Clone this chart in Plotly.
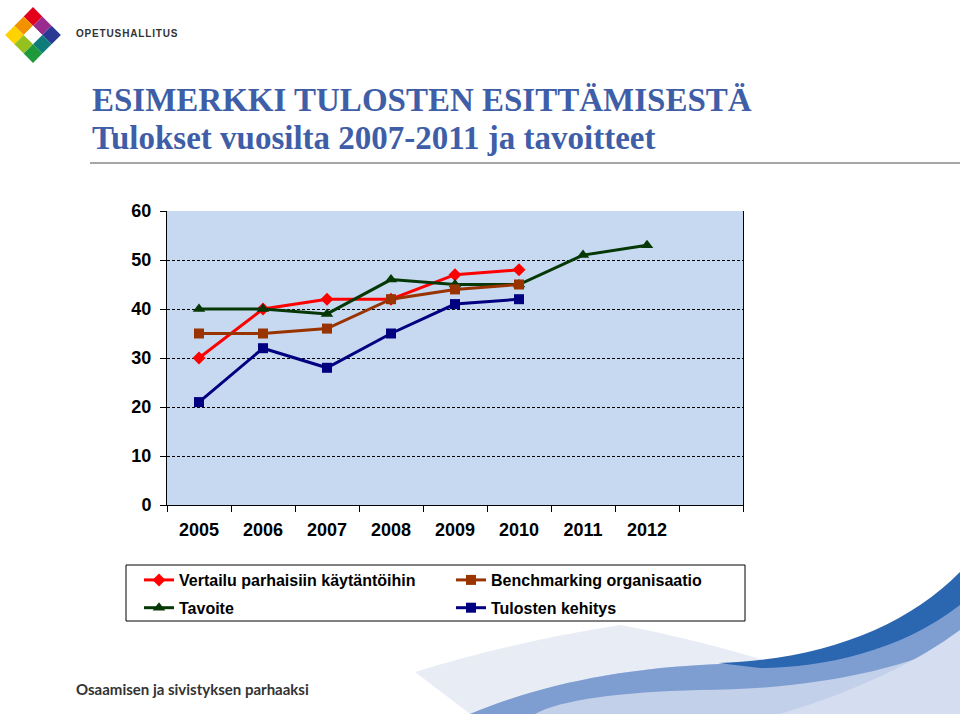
import plotly.graph_objects as go

W, H = 960, 714

years = ["2005", "2006", "2007", "2008", "2009", "2010", "2011", "2012"]
categories = years + [" "]

vertailu_years = ["2005", "2006", "2007", "2008", "2009", "2010"]
vertailu = [30, 40, 42, 42, 47, 48]

benchmark_years = ["2005", "2006", "2007", "2008", "2009", "2010"]
benchmark = [35, 35, 36, 42, 44, 45]

tavoite_years = ["2005", "2006", "2007", "2008", "2009", "2010", "2011", "2012"]
tavoite = [40, 40, 39, 46, 45, 45, 51, 53]

tulos_years = ["2005", "2006", "2007", "2008", "2009", "2010"]
tulos = [21, 32, 28, 35, 41, 42]

y_ticks = [0, 10, 20, 30, 40, 50, 60]

title1 = "ESIMERKKI TULOSTEN ESITTÄMISESTÄ"
title2 = "Tulokset vuosilta 2007-2011 ja tavoitteet"


def px(x, y):
    return x / W, 1 - y / H


def path(points_cmds):
    out = []
    for cmd in points_cmds:
        if isinstance(cmd, str):
            out.append(cmd)
        else:
            x, y = px(*cmd)
            out.append(f"{x:.5f},{y:.5f}")
    return " ".join(out)


LFONT = "Liberation Sans"

fig = go.Figure()

fig.add_trace(go.Scatter(
    x=vertailu_years, y=vertailu, name="Vertailu parhaisiin käytäntöihin",
    mode="lines+markers", line=dict(color="#FF0000", width=3),
    marker=dict(symbol="diamond", size=10, color="#FF0000"),
    legend="legend", legendgroup="a"))
fig.add_trace(go.Scatter(
    x=tavoite_years, y=tavoite, name="Tavoite",
    mode="lines+markers", line=dict(color="#063806", width=3),
    marker=dict(symbol="triangle-up", size=11, color="#063806"),
    legend="legend", legendgroup="b"))
fig.add_trace(go.Scatter(
    x=benchmark_years, y=benchmark, name="Benchmarking organisaatio",
    mode="lines+markers", line=dict(color="#993300", width=3),
    marker=dict(symbol="square", size=10, color="#993300"),
    legend="legend2", legendgroup="c"))
fig.add_trace(go.Scatter(
    x=tulos_years, y=tulos, name="Tulosten kehitys",
    mode="lines+markers", line=dict(color="#000080", width=3),
    marker=dict(symbol="square", size=10, color="#000080"),
    legend="legend2", legendgroup="d"))

shapes = []

# bottom-right decorative waves
shapes.append(dict(type="path", xref="paper", yref="paper", layer="below",
    path=path(["M", (415, 672), "Q", (520, 640), (621, 625), "Q", (700, 640), (780, 665),
               "L", (700, 714), "L", (470, 714), "Z"]),
    fillcolor="#E8ECF5", line=dict(width=0)))
shapes.append(dict(type="path", xref="paper", yref="paper", layer="below",
    path=path(["M", (470, 714), "C", (540, 685), (620, 668), (720, 664),
               "C", (820, 660), (900, 640), (960, 592), "L", (960, 714), "Z"]),
    fillcolor="#C3D0EA", line=dict(width=0)))
shapes.append(dict(type="path", xref="paper", yref="paper", layer="below",
    path=path(["M", (470, 714), "C", (540, 685), (620, 668), (720, 664),
               "C", (820, 660), (900, 640), (960, 592), "L", (960, 640),
               "C", (900, 672), (800, 690), (700, 690),
               "C", (620, 692), (560, 700), (535, 714), "Z"]),
    fillcolor="#7E9ED2", line=dict(width=0)))
shapes.append(dict(type="path", xref="paper", yref="paper", layer="below",
    path=path(["M", (718, 663), "C", (820, 660), (905, 628), (960, 572),
               "L", (960, 605), "C", (900, 652), (820, 668), (760, 668), "Z"]),
    fillcolor="#2B66B0", line=dict(width=0)))
shapes.append(dict(type="path", xref="paper", yref="paper", layer="below",
    path=path(["M", (780, 714), "C", (860, 690), (920, 660), (960, 630),
               "L", (960, 714), "Z"]),
    fillcolor="#D5DEF0", line=dict(width=0)))

# title underline
x0, y0 = px(90, 163)
x1, y1 = px(960, 163)
shapes.append(dict(type="line", xref="paper", yref="paper", x0=x0, y0=y0, x1=x1, y1=y1,
                   line=dict(color="#A6A6A6", width=2)))

# legend box
x0, y0 = px(126, 565)
x1, y1 = px(745, 621)
shapes.append(dict(type="rect", xref="paper", yref="paper", x0=x0, y0=y0, x1=x1, y1=y1,
                   line=dict(color="#000000", width=1), fillcolor="#FFFFFF", layer="below"))

# logo diamond
cx, cy, h = 33, 35, 9.3
logo_colors = {
    (-1, -1): "#E2001A", (0, -1): "#9B2C8F", (1, -1): "#2A3A94",
    (-1, 0): "#F39200", (0, 0): "#FFFFFF", (1, 0): "#0E7C7B",
    (-1, 1): "#FFD200", (0, 1): "#95C11F", (1, 1): "#1E9A3C",
}
for (i, j), col in logo_colors.items():
    ccx = cx + (i - j) * h
    ccy = cy + (i + j) * h
    shapes.append(dict(type="path", xref="paper", yref="paper",
        path=path(["M", (ccx, ccy - h), "L", (ccx + h, ccy), "L", (ccx, ccy + h),
                   "L", (ccx - h, ccy), "Z"]),
        fillcolor=col, line=dict(width=0)))

annotations = []
hs = "\u200a"
annotations.append(dict(xref="paper", yref="paper", x=74 / W, y=1 - 33 / H,
    xanchor="left", yanchor="middle", showarrow=False,
    text=hs.join("OPETUSHALLITUS"),
    font=dict(family=LFONT, size=10, color="#333333", weight="bold")))
annotations.append(dict(xref="paper", yref="paper", x=90 / W, y=1 - 100 / H,
    xanchor="left", yanchor="middle", showarrow=False, text=title1,
    font=dict(family="Liberation Serif", size=33, color="#3F5EA8", weight="bold")))
annotations.append(dict(xref="paper", yref="paper", x=90 / W, y=1 - 138 / H,
    xanchor="left", yanchor="middle", showarrow=False, text=title2,
    font=dict(family="Liberation Serif", size=33, color="#3F5EA8", weight="bold")))
annotations.append(dict(xref="paper", yref="paper", x=74 / W, y=1 - 689 / H,
    xanchor="left", yanchor="middle", showarrow=False,
    text="Osaamisen ja sivistyksen parhaaksi",
    font=dict(family="Lato", size=15, color="#333333", weight="bold")))

fig.update_layout(
    width=W, height=H, autosize=False,
    margin=dict(l=0, r=0, t=0, b=0, autoexpand=False),
    paper_bgcolor="#FFFFFF", plot_bgcolor="#C6D9F1",
    showlegend=True,
    shapes=shapes, annotations=annotations,
    xaxis=dict(domain=[167 / W, 743 / W], type="category",
               categoryorder="array", categoryarray=categories,
               range=[-0.5, len(categories) - 0.5],
               tickmode="array", tickvals=categories, ticktext=years + [""],
               tickson="boundaries", ticks="outside", ticklen=6, tickcolor="#000000",
               showline=True, linecolor="#000000", linewidth=1, showgrid=False,
               tickfont=dict(family=LFONT, size=18, color="#000000", weight="bold"),
               ticklabelstandoff=8, automargin=False, fixedrange=True),
    yaxis=dict(domain=[1 - 505 / H, 1 - 211 / H], range=[0, 60],
               tickmode="array", tickvals=y_ticks,
               ticks="outside", ticklen=6, tickcolor="#000000",
               showline=True, linecolor="#000000", linewidth=1, mirror=True,
               showgrid=True, gridcolor="#000000", gridwidth=1, griddash="3px,2px",
               zeroline=False,
               tickfont=dict(family=LFONT, size=18, color="#000000", weight="bold"),
               ticklabelstandoff=5, automargin=False, fixedrange=True),
    legend=dict(x=139 / W, y=1 - 563 / H, xanchor="left", yanchor="top",
                bgcolor="rgba(0,0,0,0)", borderwidth=0, tracegroupgap=4,
                font=dict(family=LFONT, size=16, color="#000000", weight="bold")),
    legend2=dict(x=451 / W, y=1 - 563 / H, xanchor="left", yanchor="top",
                 bgcolor="rgba(0,0,0,0)", borderwidth=0, tracegroupgap=4,
                 font=dict(family=LFONT, size=16, color="#000000", weight="bold")),
)

fig.write_html("out.html", config={"displayModeBar": False},
               post_script="document.body.style.margin='0';document.body.style.overflow='hidden';")
